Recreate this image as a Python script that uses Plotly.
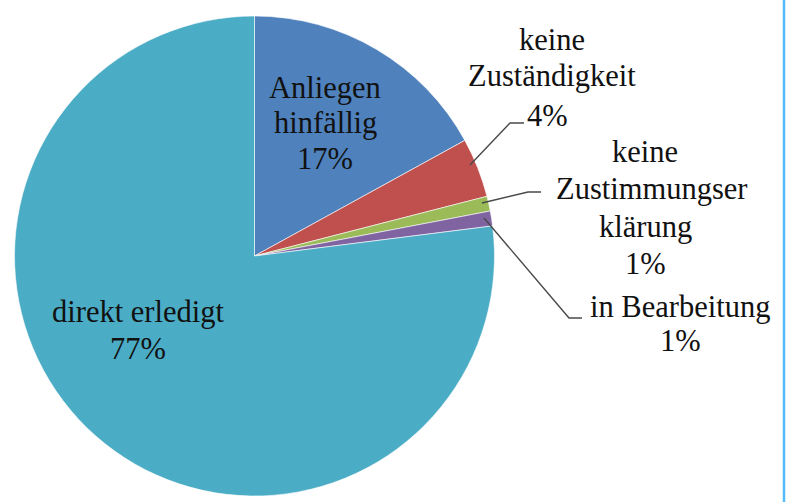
import plotly.graph_objects as go

# ---- data ----
labels = ["Anliegen hinfällig", "keine Zuständigkeit", "keine Zustimmungserklärung",
          "in Bearbeitung", "direkt erledigt"]
values = [17, 4, 1, 1, 77]
colors = ["#4F81BD", "#C0504D", "#9BBB59", "#8064A2", "#4BACC6"]
label_lines = [["Anliegen", "hinfällig"],
               ["keine", "Zuständigkeit"],
               ["keine", "Zustimmungser", "klärung"],
               ["in Bearbeitung"],
               ["direkt erledigt"]]

W, H = 789, 502
FS = 30.5
FONT = "Liberation Serif"

def px(x):
    return x / W

def py(y):
    return 1 - y / H

# layout of the label lines (pixel centres, from top-left)
label_pos = [
    [(325, 88), (325, 123), (325, 159)],
    [(552, 40), (552, 76), (547, 116)],
    [(645, 152), (651, 189), (645, 227), (645, 264)],
    [(680, 307), (680, 341)],
    [(138, 312), (138, 349)],
]

# leader lines (pixels)
leaders = [
    [(470, 165), (510, 123), (524, 123)],
    [(482, 203), (528, 192), (541, 192)],
    [(484, 218), (569, 318), (582, 318)],
]

cx, cy, r = 254.5, 256, 240

fig = go.Figure(go.Pie(
    labels=labels,
    values=values,
    marker=dict(colors=colors, line=dict(color="white", width=0.6)),
    sort=False,
    direction="clockwise",
    rotation=0,
    textinfo="none",
    hoverinfo="label+percent",
    domain=dict(x=[px(cx - r), px(cx + r)], y=[py(cy + r), py(cy - r)]),
    showlegend=False,
))

total = sum(values)
annotations = []
for lines, v, pos in zip(label_lines, values, label_pos):
    texts = lines + [f"{round(v / total * 100)}%"]
    for t, (x, y) in zip(texts, pos):
        annotations.append(dict(
            x=px(x), y=py(y), xref="paper", yref="paper",
            text=t, showarrow=False, xanchor="center", yanchor="middle",
            font=dict(family=FONT, size=FS, color="#111111"),
        ))

shapes = []
for pts in leaders:
    path = "M " + " L ".join(f"{px(x)},{py(y)}" for x, y in pts)
    shapes.append(dict(type="path", xref="paper", yref="paper", path=path,
                       line=dict(color="#4a4a4a", width=1.4)))
# right border line
shapes.append(dict(type="line", xref="paper", yref="paper",
                   x0=px(784), x1=px(784), y0=0, y1=1,
                   line=dict(color="#55BBF8", width=2.5)))

fig.update_layout(
    width=W, height=H,
    margin=dict(l=0, r=0, t=0, b=0),
    paper_bgcolor="white", plot_bgcolor="white",
    font=dict(family=FONT),
    annotations=annotations,
    shapes=shapes,
)

fig.write_html("out.html",
               config={"displayModeBar": False},
               post_script="document.body.style.margin='0';document.body.style.overflow='hidden';")
